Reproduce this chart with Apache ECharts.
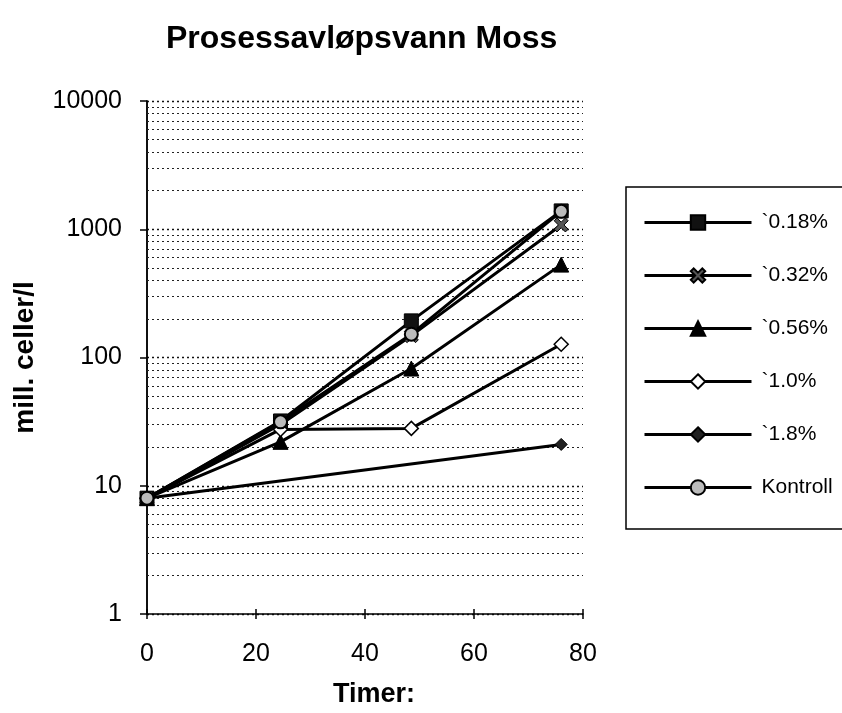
<!DOCTYPE html>
<html>
<head>
<meta charset="utf-8">
<script src="https://cdn.jsdelivr.net/npm/echarts@6/dist/echarts.min.js"></script>
<style>
html,body{margin:0;padding:0;background:#fff;}
#chart{width:842px;height:713px;}
</style>
</head>
<body>
<div id="chart"></div>
<script>
var hours = [0, 24.5, 48.5, 76];
var seriesNames = ['`0.18%', '`0.32%', '`0.56%', '`1.0%', '`1.8%', 'Kontroll'];
var v018 = [8, 32, 193, 1390];
var v032 = [8, 30, 148, 1080];
var v056 = [8, 22, 82, 530];
var v10 = [8, 27.5, 28, 127];
var v18 = [8, null, null, 21];
var vKontroll = [8, 31.5, 152, 1380];
var yTickLabels = ['1', '10', '100', '1000', '10000'];
var xTickLabels = ['0', '20', '40', '60', '80'];
var minorGrid = [2,3,4,5,6,7,8,9,20,30,40,50,60,70,80,90,200,300,400,500,600,700,800,900,2000,3000,4000,5000,6000,7000,8000,9000];

function pairs(vals){
  var out = [];
  for (var i = 0; i < hours.length; i++) {
    if (vals[i] !== null) out.push([hours[i], vals[i]]);
  }
  return out;
}

var FONT = '"Liberation Sans", Arial, Helvetica, sans-serif';
var styles = [
  {symbol:'rect', symbolSize:14, itemStyle:{color:'#111', borderColor:'#000', borderWidth:1}},
  {symbol:'path://M0,2 L2,0 L5,3 L8,0 L10,2 L7,5 L10,8 L8,10 L5,7 L2,10 L0,8 L3,5 Z', symbolSize:14, itemStyle:{color:'#555', borderColor:'#000', borderWidth:1}},
  {symbol:'triangle', symbolSize:15, itemStyle:{color:'#000', borderColor:'#000', borderWidth:1}},
  {symbol:'diamond', symbolSize:14, itemStyle:{color:'#fff', borderColor:'#000', borderWidth:1.5}},
  {symbol:'diamond', symbolSize:12, itemStyle:{color:'#222', borderColor:'#000', borderWidth:1}},
  {symbol:'circle', symbolSize:13, itemStyle:{color:'#bbb', borderColor:'#000', borderWidth:2}}
];
var allVals = [v018, v032, v056, v10, v18, vKontroll];

var series = [];
for (var k = 0; k < seriesNames.length; k++) {
  series.push({
    name: seriesNames[k],
    type: 'line',
    data: pairs(allVals[k]),
    symbol: styles[k].symbol,
    symbolSize: styles[k].symbolSize,
    showAllSymbol: true,
    itemStyle: styles[k].itemStyle,
    lineStyle: {color:'#000', width:3},
    z: 5 + k,
    animation: false
  });
}
series.unshift({
  name: 'grid',
  type: 'line',
  data: [],
  silent: true,
  animation: false,
  markLine: {
    silent: true,
    symbol: 'none',
    animation: false,
    label: {show: false},
    lineStyle: {color:'#222', type:[2,3], width:1.2},
    data: minorGrid.map(function(v){ return {yAxis: v}; })
  }
});

var chart = echarts.init(document.getElementById('chart'), null, {renderer:'canvas'});
chart.setOption({
  backgroundColor: '#fff',
  animation: false,
  title: {
    text: 'Prosessavløpsvann Moss',
    left: 161, top: 18,
    textStyle: {fontFamily: FONT, fontSize: 32, fontWeight: 'bold', color: '#000'}
  },
  grid: {left: 147, right: 259, top: 101, bottom: 99},
  legend: {
    data: seriesNames,
    orient: 'vertical',
    left: 626, top: 187,
    padding: [25, 60, 31, 17],
    itemWidth: 107, itemHeight: 18, itemGap: 32,
    borderColor: '#000', borderWidth: 1.5,
    lineStyle: {width: 3},
    textStyle: {fontFamily: FONT, fontSize: 21, color: '#000', lineHeight: 18, padding: [0,0,0,5]}
  },
  xAxis: [{
    type: 'value', min: 0, max: 80, interval: 20,
    name: 'Timer:', nameLocation: 'middle', nameGap: 67,
    nameTextStyle: {fontFamily: FONT, fontSize: 27, fontWeight: 'bold', color: '#000', padding: [0,0,0,18]},
    axisLine: {show: true, lineStyle: {color:'#000', width:1.5}},
    axisTick: {show: true, length: 5, lineStyle: {color:'#000', width:1.5}},
    axisLabel: {fontFamily: FONT, fontSize: 25, color: '#000', margin: 28,
      formatter: function(v){ return xTickLabels[Math.round(v/20)]; }},
    splitLine: {show: false}
  }, {
    type: 'value', min: 0, max: 80, interval: 20, position: 'bottom',
    axisLine: {show: false},
    axisTick: {show: true, inside: true, length: 5, lineStyle: {color:'#000', width:1.5}},
    axisLabel: {show: false},
    splitLine: {show: false}
  }],
  yAxis: [{
    type: 'log', logBase: 10, min: 1, max: 10000,
    name: 'mill. celler/l', nameLocation: 'middle', nameGap: 108, nameRotate: 90,
    nameTextStyle: {fontFamily: FONT, fontSize: 28, fontWeight: 'bold', color: '#000'},
    axisLine: {show: true, lineStyle: {color:'#000', width:1.5}},
    axisTick: {show: true, length: 7, lineStyle: {color:'#000', width:1.5}},
    axisLabel: {fontFamily: FONT, fontSize: 25, color: '#000', margin: 25,
      formatter: function(v){ return yTickLabels[Math.round(Math.log10(v))]; }},
    splitLine: {show: true, lineStyle: {color:'#111', type:[2,3], width:1.3}}
  }, {
    type: 'log', logBase: 10, min: 1, max: 10000, position: 'right',
    axisLine: {show: true, lineStyle: {color:'#000', width:1.5}},
    axisTick: {show: false}, axisLabel: {show: false}, splitLine: {show: false}
  }],
  series: series
});
</script>
</body>
</html>
